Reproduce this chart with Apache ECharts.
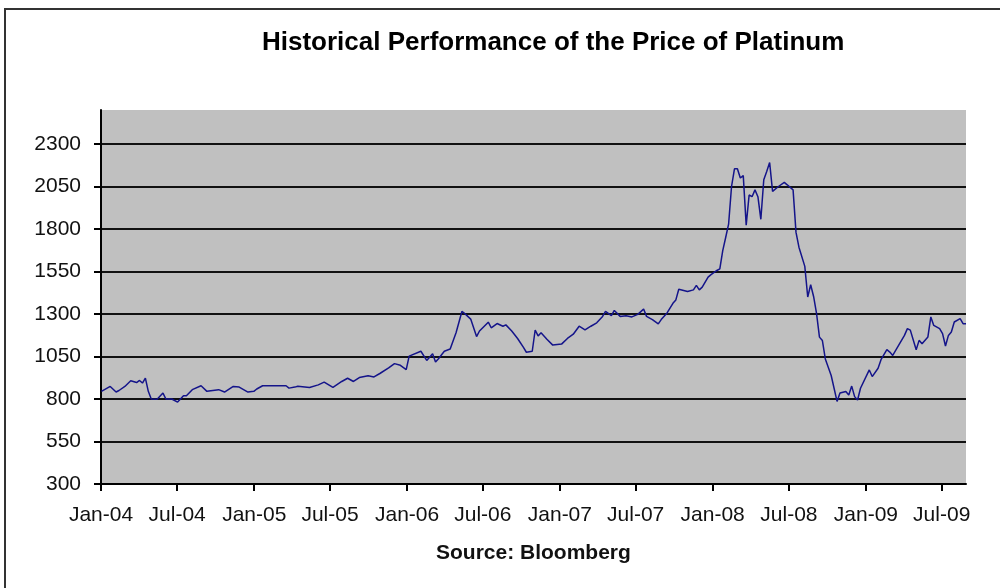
<!DOCTYPE html>
<html>
<head>
<meta charset="utf-8">
<script src="https://cdn.jsdelivr.net/npm/echarts@6/dist/echarts.min.js"></script>
<style>
  html, body { margin: 0; padding: 0; background: #fff; }
  #chart { width: 1000px; height: 588px; }
</style>
</head>
<body>
<div id="chart"></div>
<script>
// weekly closes, week 0 = 2 Jan 2004
const weekIndex = [
  0, 3, 5, 6, 8, 10, 12, 13, 14, 15, 16, 17, 19, 21, 22, 24, 26, 28, 29, 31,
  34, 36, 40, 42, 45, 47, 50, 52, 53, 55, 63, 64, 66, 67, 71, 74, 76, 79, 82, 84,
  86, 88, 91, 93, 95, 98, 100, 102, 104, 105, 109, 111, 113, 114, 115, 117, 119, 121, 123, 124,
  126, 128, 129, 132, 133, 135, 137, 138, 140, 142, 144, 145, 147, 148, 149, 150, 152, 154, 157, 159,
  161, 163, 165, 167, 169, 171, 172, 174, 175, 177, 179, 181, 183, 185, 186, 188, 190, 191, 193, 195,
  196, 197, 200, 202, 203, 204, 205, 207, 208, 210, 211, 212, 213, 214, 215, 216, 217, 218, 219, 220,
  221, 222, 223, 224, 225, 226, 227, 228, 229, 231, 233, 234, 236, 237, 238, 240, 241, 242, 243, 244,
  245, 246, 247, 248, 249, 251, 252, 254, 255, 256, 257, 258, 259, 262, 263, 265, 266, 268, 269, 270,
  272, 274, 275, 276, 278, 279, 280, 282, 283, 284, 286, 287, 288, 289, 290, 291, 293, 294, 295
];
const prices = [
  845, 874, 841, 850, 874, 907, 897, 909, 894, 923, 845, 800, 798, 835, 800, 800, 782, 819, 819, 855,
  878, 845, 855, 841, 874, 870, 841, 845, 859, 878, 878, 864, 870, 875, 868, 883, 899, 868, 903, 922,
  903, 926, 937, 930, 950, 983, 1008, 998, 973, 1052, 1081, 1027, 1066, 1018, 1037, 1081, 1094, 1190, 1315, 1302,
  1270, 1167, 1200, 1252, 1219, 1244, 1228, 1236, 1200, 1156, 1104, 1075, 1081, 1206, 1171, 1190, 1152, 1117, 1123, 1156,
  1181, 1228, 1206, 1228, 1248, 1286, 1315, 1290, 1321, 1286, 1290, 1283, 1298, 1329, 1286, 1267, 1242, 1267, 1306, 1363,
  1383, 1446, 1432, 1442, 1468, 1442, 1458, 1517, 1532, 1556, 1566, 1673, 1750, 1829, 2050, 2154, 2154, 2100, 2114, 1823,
  2000, 1990, 2030, 1990, 1857, 2090, 2138, 2191, 2021, 2050, 2074, 2060, 2030, 1780, 1693, 1580, 1400, 1472, 1403, 1304,
  1164, 1144, 1036, 987, 938, 786, 835, 844, 823, 876, 814, 794, 863, 971, 932, 981, 1031, 1090, 1076, 1056,
  1115, 1174, 1214, 1205, 1090, 1145, 1125, 1165, 1283, 1233, 1214, 1185, 1112, 1174, 1194, 1253, 1273, 1243, 1243
];

const tickDates = [
  '2004-01-01', '2004-07-01', '2005-01-01', '2005-07-01', '2006-01-01', '2006-07-01',
  '2007-01-01', '2007-07-01', '2008-01-01', '2008-07-01', '2009-01-01', '2009-07-01'
];
const tickLabels = [
  'Jan-04', 'Jul-04', 'Jan-05', 'Jul-05', 'Jan-06', 'Jul-06',
  'Jan-07', 'Jul-07', 'Jan-08', 'Jul-08', 'Jan-09', 'Jul-09'
];
const yTicks = [300, 550, 800, 1050, 1300, 1550, 1800, 2050, 2300];

// x is counted in days since 1 Jan 2004
const DAY = 86400000;
const origin = Date.UTC(2004, 0, 1);
const points = weekIndex.map((w, i) => [1 + w * 7, prices[i]]);
const tickDays = tickDates.map((d) => Math.round((Date.parse(d) - origin) / DAY));

const chart = echarts.init(document.getElementById('chart'));

chart.setOption({
  animation: false,
  backgroundColor: '#fff',
  textStyle: { fontFamily: 'Liberation Sans, Arial, sans-serif' },
  title: {
    text: 'Historical Performance of the Price of Platinum',
    left: 257,
    top: 25,
    textStyle: { fontSize: 26, fontWeight: 'bold', color: '#000' }
  },
  graphic: [
    {
      type: 'rect',
      shape: { x: 5, y: 9, width: 1010, height: 600 },
      style: { fill: 'none', stroke: '#333', lineWidth: 2 }
    },
    {
      type: 'text',
      left: 436,
      top: 543,
      style: { text: 'Source: Bloomberg', font: 'bold 21px "Liberation Sans", Arial', fill: '#111' }
    }
  ],
  grid: {
    left: 101,
    right: 34,
    top: 110,
    bottom: 104,
    show: true,
    backgroundColor: '#c0c0c0',
    borderWidth: 0
  },
  xAxis: {
    type: 'value',
    min: 0,
    max: points[points.length - 1][0],
    axisLine: { lineStyle: { color: '#000', width: 2 } },
    axisTick: { customValues: tickDays, length: 7, lineStyle: { color: '#000', width: 2 } },
    axisLabel: {
      customValues: tickDays,
      margin: 21,
      fontSize: 21,
      color: '#111',
      formatter: (v) => {
        const i = tickDays.indexOf(v);
        return i >= 0 ? tickLabels[i] : '';
      }
    },
    splitLine: { show: false }
  },
  yAxis: {
    type: 'value',
    min: 300,
    max: 2500,
    interval: 250,
    axisLine: { show: true, lineStyle: { color: '#000', width: 2 } },
    axisTick: { show: true, customValues: yTicks, length: 7, lineStyle: { color: '#000', width: 2 } },
    axisLabel: {
      customValues: yTicks,
      margin: 20,
      fontSize: 21,
      color: '#111',
      formatter: (v) => String(v)
    },
    splitLine: {
      lineStyle: {
        width: 2,
        color: ['#111', '#111', '#111', '#111', '#111', '#111', '#111', '#111', '#111', 'rgba(0,0,0,0)']
      }
    }
  },
  series: [
    {
      type: 'line',
      data: points,
      showSymbol: false,
      lineStyle: { color: '#14148a', width: 1.5 }
    }
  ]
});
</script>
</body>
</html>
